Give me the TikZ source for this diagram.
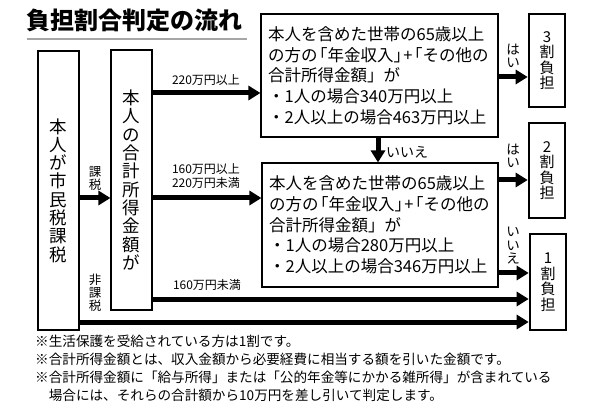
\documentclass[tikz,border=0pt]{standalone}
\usepackage{fontspec}
\setmainfont{Noto Sans CJK JP}
\usetikzlibrary{arrows.meta}
\newcommand{\jlbr}{\kern-.4em「}
\newcommand{\jrbr}{」\kern-.4em}
\begin{document}
\begin{tikzpicture}[x=1pt,y=-1pt,
  thinbox/.style={draw, line width=1.1pt, inner sep=0pt},
  outbox/.style={draw, line width=2.6pt, inner sep=0pt, minimum width=36pt, align=center,
     font=\fontsize{15}{15.5}\selectfont},
  vtext/.style={align=center, inner sep=0pt, font=\fontsize{17.5}{18.3}\selectfont},
  ctext/.style={anchor=west, align=left, inner sep=0pt, font=\fontsize{16.5}{20.7}\selectfont},
  arr/.style={line width=5pt, -{Triangle[length=12pt,width=14pt]}},
  lbl/.style={inner sep=0pt, align=center, font=\fontsize{12}{14}\selectfont},
  vlbl/.style={inner sep=0pt, align=center, font=\fontsize{12.5}{13}\selectfont},
  ylbl/.style={inner sep=0pt, align=center, font=\fontsize{13.5}{13.5}\selectfont},
]
\useasboundingbox (0,0) rectangle (600,414);

% title
\node[inner sep=0pt, font=\fontsize{24}{24}\selectfont\bfseries] (title) at (135,20) {負担割合判定の流れ};
\draw[gray!70, line width=1.5pt] (27,39) coordinate (ul1) -- (247,39) coordinate (ul2);

% boxes
\node[thinbox, minimum width=41pt, minimum height=279pt] (A) at (58.5,190.5) {};
\node[vtext] (At) at (A.center) {本\\人\\が\\市\\民\\税\\課\\税};
\node[thinbox, minimum width=41pt, minimum height=260pt] (B) at (131.5,180) {};
\node[vtext] (Bt) at (B.center) {本\\人\\の\\合\\計\\所\\得\\金\\額\\が};

\node[thinbox, minimum width=237pt, minimum height=123pt] (C1) at (379.5,75.5) {};
\node[ctext] (C1t) at ([xshift=7.5pt]C1.west) {本人を含めた世帯の65歳以上\\の方の\jlbr 年金収入\jrbr +\jlbr その他の\\合計所得金額」が\\・1人の場合340万円以上\\・2人以上の場合463万円以上};
\node[thinbox, minimum width=236pt, minimum height=124pt] (C2) at (380,225) {};
\node[ctext] (C2t) at ([xshift=7.5pt]C2.west) {本人を含めた世帯の65歳以上\\の方の\jlbr 年金収入\jrbr +\jlbr その他の\\合計所得金額」が\\・1人の場合280万円以上\\・2人以上の場合346万円以上};

\node[outbox, minimum height=93pt] (D3) at (547,60.5) {3\\割\\負\\担};
\node[outbox, minimum height=95pt] (D2) at (547,170.5) {2\\割\\負\\担};
\node[outbox, minimum height=96pt] (D1) at (548,282) {1\\割\\負\\担};

% arrows
\draw[arr] (B.east |- {0,93}) -- (C1.west |- {0,93});
\draw[arr] (A.east |- {0,198}) -- (B.west |- {0,198});
\draw[arr] (B.east |- {0,198}) -- (C2.west |- {0,198});
\draw[arr] (C1.east |- {0,77}) -- (D3.west |- {0,77});
\draw[arr] (C1.south -| {378,0}) -- (C2.north -| {378,0});
\draw[arr] (C2.east |- {0,180}) -- (D2.west |- {0,180});
\draw[arr] (C2.east |- {0,273}) -- (D1.west |- {0,273});
\draw[arr] (B.east |- {0,299}) -- (D1.west |- {0,299});
\draw[arr] (A.east |- {0,322}) -- (D1.west |- {0,322});

% labels
\node[lbl] (l1) at (206,80) {220万円以上};
\node[lbl] (l2) at (206,176) {160万円以上\\220万円未満};
\node[lbl] (l3) at (207,285) {160万円未満};
\node[vlbl] (l4) at (95,178) {課\\税};
\node[vlbl] (l5) at (95,293) {非\\課\\税};
\node[ylbl] (y1) at (513,56) {は\\い};
\node[ylbl] (y2) at (513,156) {は\\い};
\node[ylbl] (y3) at (513,246) {い\\い\\え};
\node[inner sep=0pt, font=\fontsize{14}{14}\selectfont] (n1) at (407,152) {いいえ};

% notes
\node[anchor=north west, align=left, inner sep=0pt, font=\fontsize{13.6}{18}\selectfont] (notes) at (35,335)
 {※生活保護を受給されている方は1割です。\\
  ※合計所得金額とは、収入金額から必要経費に相当する額を引いた金額です。\\
  ※合計所得金額に「給与所得」または「公的年金等にかかる雑所得」が含まれている\\
  \hspace*{1em}場合には、それらの合計額から10万円を差し引いて判定します。};
\end{tikzpicture}
\end{document}
